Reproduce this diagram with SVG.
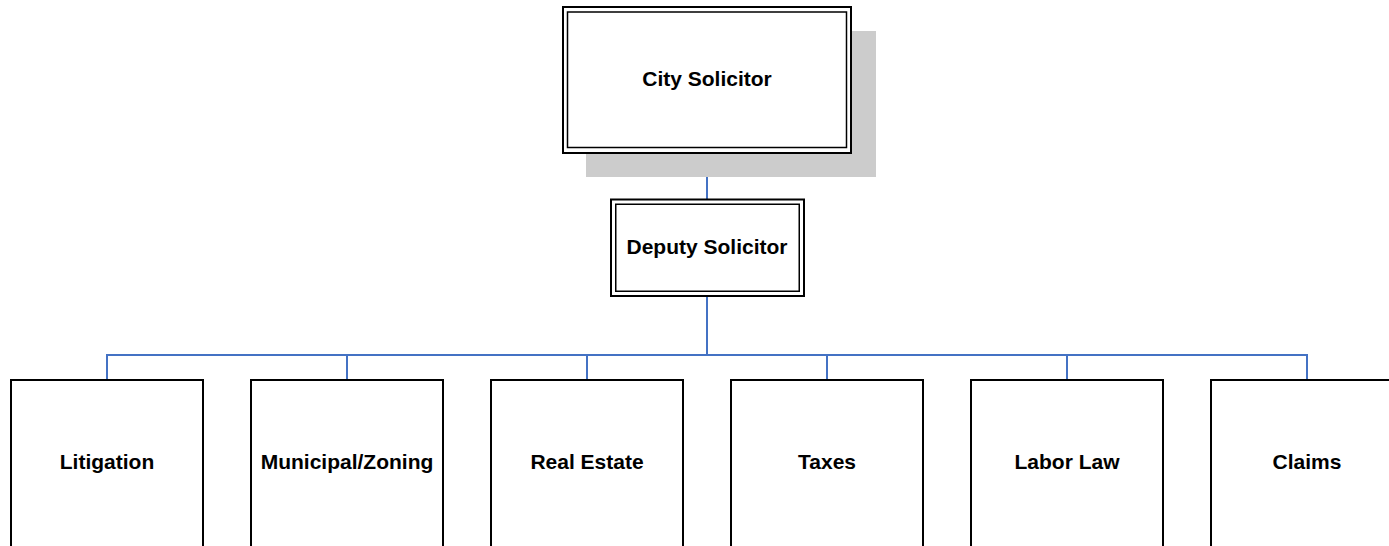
<svg xmlns="http://www.w3.org/2000/svg" width="1389" height="546" viewBox="0 0 1389 546">
  <style>
    .outer { fill: #fff; stroke: #000; stroke-width: 2; }
    .inner { fill: none; stroke: #000; stroke-width: 1.5; }
    .box { fill: #fff; stroke: #000; stroke-width: 2; }
    .shadow { fill: #cccccc; }
    .label { font-family: "Liberation Sans", Arial, sans-serif; font-weight: bold; font-size: 21px; fill: #000; text-anchor: middle; }
    .conn { fill: none; stroke: #4472c4; stroke-width: 2; }
  </style>
  <rect width="1389" height="546" fill="#fff"/>

  <!-- connectors -->
  <g id="connectors">
    <path class="conn" d="M707 153 V199"/>
    <path class="conn" d="M707 296 V355"/>
    <path class="conn" d="M107 380 V355 H1307 V380"/>
    <path class="conn" d="M347 355 V380"/>
    <path class="conn" d="M587 355 V380"/>
    <path class="conn" d="M827 355 V380"/>
    <path class="conn" d="M1067 355 V380"/>
  </g>

  <!-- top: city solicitor with drop shadow -->
  <g id="city-solicitor">
    <rect class="shadow" x="586" y="31" width="290" height="146"/>
    <rect class="outer" x="563" y="7" width="288" height="146"/>
    <rect class="inner" x="567.5" y="12" width="279" height="135.5"/>
    <text class="label" x="707" y="86">City Solicitor</text>
  </g>

  <g id="deputy-solicitor">
    <rect class="outer" x="611" y="199.5" width="193" height="96.5"/>
    <rect class="inner" x="615.75" y="204.25" width="183.5" height="87"/>
    <text class="label" x="707" y="254">Deputy Solicitor</text>
  </g>

  <!-- divisions -->
  <g id="litigation">
    <rect class="box" x="11" y="380" width="192" height="180"/>
    <text class="label" x="107" y="469">Litigation</text>
  </g>
  <g id="municipal-zoning">
    <rect class="box" x="251" y="380" width="192" height="180"/>
    <text class="label" x="347" y="469">Municipal/Zoning</text>
  </g>
  <g id="real-estate">
    <rect class="box" x="491" y="380" width="192" height="180"/>
    <text class="label" x="587" y="469">Real Estate</text>
  </g>
  <g id="taxes">
    <rect class="box" x="731" y="380" width="192" height="180"/>
    <text class="label" x="827" y="469">Taxes</text>
  </g>
  <g id="labor-law">
    <rect class="box" x="971" y="380" width="192" height="180"/>
    <text class="label" x="1067" y="469">Labor Law</text>
  </g>
  <g id="claims">
    <rect class="box" x="1211" y="380" width="192" height="180"/>
    <text class="label" x="1307" y="469">Claims</text>
  </g>
</svg>
